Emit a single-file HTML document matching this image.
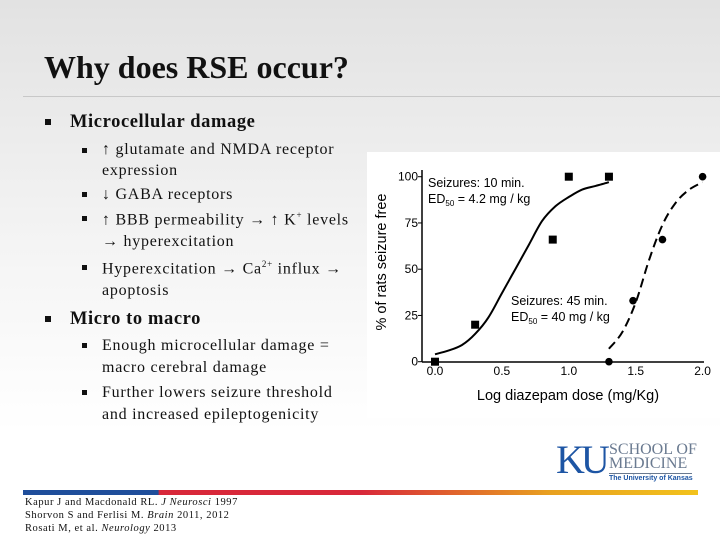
<!DOCTYPE html>
<html><head><meta charset="utf-8">
<style>
body{margin:0;width:720px;height:540px;overflow:hidden;font-family:"Liberation Serif",serif;}
#slide{position:relative;width:720px;height:540px;background:linear-gradient(#e2e2e2 0%,#f4f4f4 45%,#ffffff 80%);}
.t{position:absolute;white-space:nowrap;color:#111;}
.l1{font-size:18.5px;font-weight:bold;letter-spacing:0.6px;}
.l2{font-size:16px;letter-spacing:0.75px;}
.b{position:absolute;width:6px;height:6px;background:#111;}
.ref{font-size:10.5px;letter-spacing:0.55px;}
</style></head><body>
<div id="slide">
<div class="t" style="left:44px;top:49px;font-size:32px;font-weight:bold;">Why does RSE occur?</div>
<div style="position:absolute;left:23px;top:96px;width:697px;height:1px;background:#c8c8c8"></div>

<div class="b" style="left:45px;top:119px"></div>
<div class="t l1" style="left:70px;top:112px">Microcellular damage</div>
<div class="b" style="left:82px;top:148px;width:5px;height:5px"></div>
<div class="t l2" style="left:102px;top:141px">↑ glutamate and NMDA receptor</div>
<div class="t l2" style="left:102px;top:162px">expression</div>
<div class="b" style="left:82px;top:192px;width:5px;height:5px"></div>
<div class="t l2" style="left:102px;top:186px">↓ GABA receptors</div>
<div class="b" style="left:82px;top:216px;width:5px;height:5px"></div>
<div class="t l2" style="left:102px;top:210px">↑ BBB permeability → ↑ K<sup style="font-size:9px">+</sup> levels</div>
<div class="t l2" style="left:102px;top:233px">→ hyperexcitation</div>
<div class="b" style="left:82px;top:265px;width:5px;height:5px"></div>
<div class="t l2" style="left:102px;top:259px">Hyperexcitation → Ca<sup style="font-size:9px">2+</sup> influx →</div>
<div class="t l2" style="left:102px;top:282px">apoptosis</div>
<div class="b" style="left:45px;top:316px"></div>
<div class="t l1" style="left:70px;top:309px">Micro to macro</div>
<div class="b" style="left:82px;top:343px;width:5px;height:5px"></div>
<div class="t l2" style="left:102px;top:337px">Enough microcellular damage =</div>
<div class="t l2" style="left:102px;top:359px">macro cerebral damage</div>
<div class="b" style="left:82px;top:390px;width:5px;height:5px"></div>
<div class="t l2" style="left:102px;top:384px">Further lowers seizure threshold</div>
<div class="t l2" style="left:102px;top:406px">and increased epileptogenicity</div>

<div style="position:absolute;left:23px;top:490px;width:675px;height:5px;background:linear-gradient(90deg,#1f4e9b 0%,#1f4e9b 20%,#d8283a 20.2%,#d8283a 50%,#e8a020 78%,#f2c21c 100%)"></div>
<div class="t ref" style="left:25px;top:497px">Kapur J and Macdonald RL. <i>J Neurosci</i> 1997</div>
<div class="t ref" style="left:25px;top:510px">Shorvon S and Ferlisi M. <i>Brain</i> 2011, 2012</div>
<div class="t ref" style="left:25px;top:523px">Rosati M, et al. <i>Neurology</i> 2013</div>

<div>
<div class="t" style="left:556px;top:436px;font-size:40px;color:#1d55a4;letter-spacing:-4px;font-family:'Liberation Serif',serif">KU</div>
<div class="t" style="left:609px;top:443px;font-size:16px;color:#6a7a90;line-height:14px">SCHOOL OF<br>MEDICINE</div>
<div style="position:absolute;left:609px;top:473px;width:83px;height:1px;background:#6a7a90"></div>
<div class="t" style="left:609px;top:475px;font-size:7px;font-weight:bold;color:#1d55a4;font-family:'Liberation Sans',sans-serif">The University of Kansas</div>
</div>

<svg id="chart" style="position:absolute;left:0;top:0" width="720" height="540" font-family="Liberation Sans, sans-serif"></svg>
</div>
<script>
const xTicks=[0,0.5,1.0,1.5,2.0];
const xTickLabels=["0.0","0.5","1.0","1.5","2.0"];
const yTicks=[0,25,50,75,100];
const yTickLabels=["0","25","50","75","100"];
const sqX=[0,0.3,0.88,1.0,1.3];
const sqY=[0,20,66,100,100];
const ciX=[1.3,1.48,1.7,2.0];
const ciY=[0,33,66,100];
const fit10X=[0,0.1,0.2,0.3,0.4,0.5,0.6,0.7,0.8,0.9,1.0,1.1,1.2,1.3];
const fit10Y=[4,6,9,15,24,37,50,63,76,84,89,93,95,97];
const fit45X=[1.3,1.4,1.5,1.6,1.7,1.8,1.9,2.0];
const fit45Y=[7,16,32,55,74,86,93,97];
const NS="http://www.w3.org/2000/svg";
const svg=document.getElementById('chart');
const X=v=>435+v*133.8, Y=v=>361.7-v*1.85;
function mk(t,a){const e=document.createElementNS(NS,t);for(const k in a)e.setAttribute(k,a[k]);svg.appendChild(e);return e;}
let bg=mk('rect',{x:367,y:152,width:353,height:266,fill:'#fff'});


let ya=mk('line',{x1:422,y1:170,x2:422,y2:362,stroke:'#000','stroke-width':1.5});


let xa=mk('line',{x1:422,y1:362,x2:704,y2:362,stroke:'#000','stroke-width':1.5});


yTicks.forEach((v,i)=>{
  let tk=mk('line',{x1:418,x2:422,y1:Y(v),y2:Y(v),stroke:'#000'});
  
  
  let t=mk('text',{x:418,y:Y(v)+4,'text-anchor':'end','font-size':12});
  t.textContent=yTickLabels[i];
  
  
});
xTicks.forEach((v,i)=>{
  let t=mk('text',{x:X(v),y:375,'text-anchor':'middle','font-size':12});
  t.textContent=xTickLabels[i];
  
  
});
let xt=mk('text',{x:568,y:400,'text-anchor':'middle','font-size':14.5});
xt.textContent='Log diazepam dose (mg/Kg)';


let yt=mk('text',{x:0,y:0,'text-anchor':'middle','font-size':14.5,transform:'translate(386,262) rotate(-90)'});
yt.textContent='% of rats seizure free';


function pathOf(xs,ys){
  const p=xs.map((x,i)=>[X(x),Y(ys[i])]);
  let d='M'+p[0][0].toFixed(1)+' '+p[0][1].toFixed(1);
  for(let i=0;i<p.length-1;i++){
    const p0=p[Math.max(i-1,0)],p1=p[i],p2=p[i+1],p3=p[Math.min(i+2,p.length-1)];
    const c1=[p1[0]+(p2[0]-p0[0])/6,p1[1]+(p2[1]-p0[1])/6];
    const c2=[p2[0]-(p3[0]-p1[0])/6,p2[1]-(p3[1]-p1[1])/6];
    d+=' C'+c1.map(v=>v.toFixed(1)).join(' ')+' '+c2.map(v=>v.toFixed(1)).join(' ')+' '+p2.map(v=>v.toFixed(1)).join(' ');
  }
  return d;
}
let c1=mk('path',{d:pathOf(fit10X,fit10Y),fill:'none',stroke:'#000','stroke-width':2,'stroke-linejoin':'round'});


let c2=mk('path',{d:pathOf(fit45X,fit45Y),fill:'none',stroke:'#000','stroke-width':2,'stroke-dasharray':'9 5'});


sqX.forEach((x,i)=>{
  let r=mk('rect',{x:X(x)-4,y:Y(sqY[i])-4,width:8,height:8,fill:'#000'});
  
  
});
ciX.forEach((x,i)=>{
  let c=mk('circle',{cx:X(x),cy:Y(ciY[i]),r:3.8,fill:'#000'});
  
  
});
function lab(x,y,html,name){let t=mk('text',{x:x,y:y,'font-size':12.5});t.innerHTML=html;
  
  }
lab(428,187,'Seizures: 10 min.','label-10min');
lab(428,203,'ED<tspan font-size="8" dy="3">50</tspan><tspan dy="-3"> = 4.2 mg / kg</tspan>','label-ed50-10min');
lab(511,305,'Seizures: 45 min.','label-45min');
lab(511,321,'ED<tspan font-size="8" dy="3">50</tspan><tspan dy="-3"> = 40 mg / kg</tspan>','label-ed50-45min');
</script>
</body></html>
